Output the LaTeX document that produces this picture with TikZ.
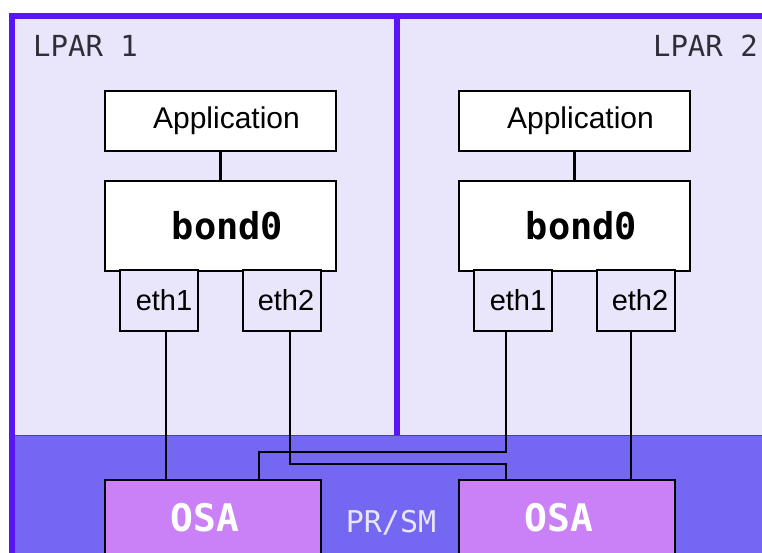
\documentclass[tikz,border=0pt]{standalone}
\usepackage{fontspec}
\setmainfont{Liberation Sans}
\newfontfamily\monofont{DejaVu Sans Mono}

\definecolor{framecol}{HTML}{5A16F2}
\definecolor{lparcol}{HTML}{E9E6FC}
\definecolor{prsmcol}{HTML}{7468F2}
\definecolor{prsmedge}{HTML}{4636E2}
\definecolor{osacol}{HTML}{CA80F7}
\definecolor{labelcol}{HTML}{2E2E38}

\tikzset{
  appbox/.style={draw=black,line width=2.2pt,fill=white,inner sep=0pt,
    minimum width=231,minimum height=60,font=\fontsize{30}{36}\selectfont},
  bondbox/.style={appbox,minimum height=90,
    font=\monofont\bfseries\fontsize{37}{44}\selectfont},
  ethbox/.style={draw=black,line width=2.2pt,fill=lparcol,inner sep=0pt,
    minimum width=78,minimum height=61,font=\fontsize{29}{34}\selectfont},
  osabox/.style={draw=black,line width=2.2pt,fill=osacol,inner sep=0pt,
    minimum width=216,minimum height=76,text=white,
    font=\monofont\bfseries\fontsize{38}{44}\selectfont},
  wire/.style={draw=black,line width=2.2pt}
}

\begin{document}
\begin{tikzpicture}[x=1pt,y=-1pt]

\clip (0,0) rectangle (762,552);
\fill[white] (0,0) rectangle (762,552);

%%%%%%%%%%%%%%%%%%%%%%%%%%%%%%%%%%%%%%%%%%%%%%%%%%
% Frame, partitions and PR/SM band
%%%%%%%%%%%%%%%%%%%%%%%%%%%%%%%%%%%%%%%%%%%%%%%%%%

\fill[lparcol] (11,16) rectangle (800,600);
\draw[prsmedge,line width=1pt,fill=prsmcol] (11,435.5) rectangle (800,600);
\draw[framecol,line width=6pt] (397,16) -- (397,435);
\draw[framecol,line width=6pt] (11.5,600) -- (11.5,16) -- (800,16);

% Labels
\node[anchor=base west,inner sep=0pt,text=labelcol,
  font=\monofont\fontsize{29}{34}\selectfont] (lpar1) at (33,56) {LPAR 1};
\node[anchor=base east,inner sep=0pt,text=labelcol,
  font=\monofont\fontsize{29}{34}\selectfont] (lpar2) at (758,56) {LPAR 2};
\node[inner sep=0pt,text=lparcol,
  font=\monofont\fontsize{30}{36}\selectfont] (prsm) at (391,523) {PR/SM};

%%%%%%%%%%%%%%%%%%%%%%%%%%%%%%%%%%%%%%%%%%%%%%%%%%
% LPAR 1
%%%%%%%%%%%%%%%%%%%%%%%%%%%%%%%%%%%%%%%%%%%%%%%%%%

\node[appbox] (app1) at (220.5,121) {\hspace{12pt}Application};
\node[bondbox] (bond1) at (220.5,226) {\hspace{14pt}bond0};
\node[ethbox] (eth11) at (159,300.5) {\hspace{10pt}eth1};
\node[ethbox] (eth12) at (282,300.5) {\hspace{8pt}eth2};

\draw[wire] (app1) -- (bond1);

%%%%%%%%%%%%%%%%%%%%%%%%%%%%%%%%%%%%%%%%%%%%%%%%%%
% LPAR 2
%%%%%%%%%%%%%%%%%%%%%%%%%%%%%%%%%%%%%%%%%%%%%%%%%%

\node[appbox] (app2) at (574.5,121) {\hspace{12pt}Application};
\node[bondbox] (bond2) at (574.5,226) {\hspace{14pt}bond0};
\node[ethbox] (eth21) at (513,300.5) {\hspace{10pt}eth1};
\node[ethbox] (eth22) at (636,300.5) {\hspace{8pt}eth2};

\draw[wire] (app2) -- (bond2);

%%%%%%%%%%%%%%%%%%%%%%%%%%%%%%%%%%%%%%%%%%%%%%%%%%
% OSA adapters
%%%%%%%%%%%%%%%%%%%%%%%%%%%%%%%%%%%%%%%%%%%%%%%%%%

\node[osabox] (osa1) at (213,518) {OSA\kern16pt};
\node[osabox] (osa2) at (567,518) {OSA\kern16pt};

% Wires
\draw[wire] ([xshift=7]eth11.south) -- ([xshift=7]eth11.south |- osa1.north);
\draw[wire] ([xshift=8]eth12.south) |- (506,464) -- (506,464 |- osa2.north);
\draw[wire] ([xshift=-7]eth21.south) |- (259,452) -- (259,452 |- osa1.north);
\draw[wire] ([xshift=-5]eth22.south) -- ([xshift=-5]eth22.south |- osa2.north);

\end{tikzpicture}
\end{document}
